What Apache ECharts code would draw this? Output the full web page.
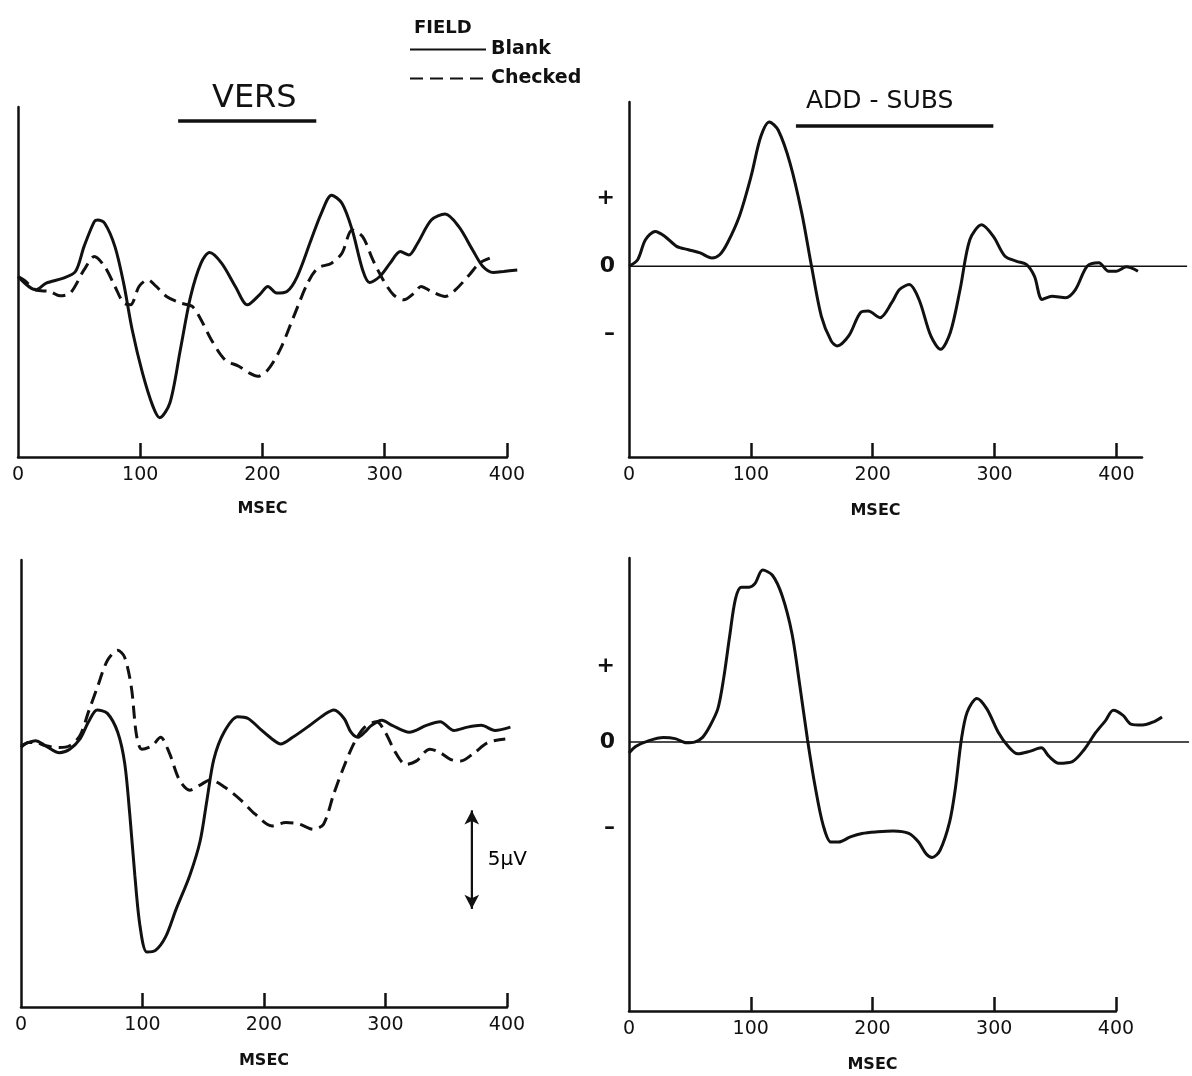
<!DOCTYPE html>
<html>
<head>
<meta charset="utf-8">
<title>VERS / ADD-SUBS</title>
<script src="https://cdn.jsdelivr.net/npm/echarts@6.0.0/dist/echarts.min.js"></script>
<style>
html, body { margin: 0; padding: 0; background: #fff; }
#chart { width: 1192px; height: 1076px; }
</style>
</head>
<body>
<div id="chart"></div>
<script>
// tick labels on the time axes (msec)
const msTicks = [0, 100, 200, 300, 400]
const msInnerTicks = [100, 200, 300, 400]

// traces, [msec, µV]
const versBlank = [[0,0],[14.6,-0.67],[23.1,-0.33],[37.1,-0.08],[47,0.25],[54,1.5],[62.4,2.75],[65.3,2.83],[70.9,2.67],[79.3,1.5],[86.4,-0.33],[93.4,-2.67],[101.8,-4.83],[110.3,-6.5],[115.9,-7.08],[124.3,-6.33],[132.8,-3.67],[141.2,-1],[149.7,0.67],[156.7,1.2],[166.5,0.67],[177.8,-0.5],[187.6,-1.42],[197.5,-0.92],[204.5,-0.5],[211.5,-0.83],[220,-0.75],[228.4,0],[239.7,1.83],[248.1,3.17],[256.5,4.08],[265,3.67],[273.4,2.33],[281.9,0.33],[287.5,-0.3],[295.9,0],[304.4,0.67],[312.8,1.25],[319.8,1.08],[326.9,1.67],[338.1,2.83],[349.4,3.13],[360.6,2.5],[371.9,1.33],[380.3,0.5],[388.8,0.2],[397.2,0.25],[408.4,0.33]]
const versChecked = [[0,0],[4.8,-0.17],[14.6,-0.67],[25.9,-0.75],[34.3,-0.97],[42.8,-0.83],[54,0.33],[62.4,1],[70.9,0.5],[79.3,-0.5],[86.4,-1.33],[92,-1.42],[99,-0.5],[106.1,-0.17],[113.1,-0.5],[121.5,-1],[132.8,-1.33],[142.6,-1.5],[149.7,-2.17],[158.1,-3.17],[169.3,-4.17],[180.6,-4.5],[189,-4.83],[196.1,-5],[204.5,-4.67],[214.4,-3.67],[225.6,-2],[236.9,-0.33],[245.3,0.42],[256.5,0.67],[265,1.17],[273.4,2.33],[281.9,2],[290.3,0.83],[298.7,-0.17],[307.2,-0.92],[315.6,-1.17],[324.1,-0.83],[329.7,-0.5],[338.1,-0.75],[349.4,-1],[357.8,-0.67],[369.1,0.08],[377.5,0.67],[385.9,0.92]]
const addSubsDiff = [[0,0],[7.1,0.33],[13.5,1.33],[21.5,1.75],[29.5,1.5],[39.1,1],[48.8,0.83],[58.4,0.67],[68,0.42],[74.4,0.58],[80.8,1.17],[90.5,2.5],[100.1,4.5],[108.1,6.5],[115.2,7.25],[122.5,6.83],[132.2,5.17],[141.8,2.67],[149.8,0],[157.8,-2.5],[165.9,-3.75],[170.7,-4],[180.3,-3.5],[189.9,-2.33],[196.3,-2.25],[206,-2.58],[215.6,-1.83],[222,-1.17],[230,-0.92],[238,-1.67],[247.7,-3.5],[255.7,-4.17],[263.7,-3.33],[271.7,-1.17],[279.7,1.33],[289.4,2.08],[299,1.5],[308.6,0.5],[318.2,0.25],[326.3,0.08],[332.7,-0.5],[339.1,-1.67],[347.1,-1.5],[358.3,-1.58],[366.4,-1.17],[376,0],[385.6,0.17],[393.6,-0.25],[400,-0.25],[408.1,-0.03],[417.7,-0.25]]
const lowBlank = [[0,0],[6.2,0.17],[11.9,0.26],[20.3,0],[31.6,-0.35],[40.1,-0.17],[48.6,0.35],[55.6,1.22],[62.7,1.82],[71.1,1.65],[79.6,0.69],[85.3,-0.87],[89.5,-3.47],[93.7,-6.6],[98,-9.2],[103.6,-10.5],[110.7,-10.42],[119.1,-9.72],[127.6,-8.33],[138.9,-6.6],[147.4,-4.86],[153,-2.78],[158.7,-0.69],[167.1,0.69],[178.4,1.48],[186.9,1.39],[198.2,0.78],[206.6,0.35],[213.7,0.09],[223.6,0.43],[237.7,1.04],[249,1.56],[257.5,1.82],[265.9,1.39],[271.6,0.69],[277.2,0.43],[282.9,0.69],[288.5,1.04],[297,1.3],[305.4,1.04],[319.6,0.69],[333.7,1.04],[345,1.22],[356.3,0.78],[367.5,0.95],[378.8,1.04],[390.1,0.78],[402.8,0.95]]
const lowChecked = [[0,-0.09],[6.2,0.17],[11.9,0.17],[20.3,0],[31.6,-0.09],[40.1,0],[48.6,0.52],[55.6,1.74],[62.7,2.95],[71.1,4.34],[79.6,4.86],[85.3,4.51],[90.9,2.95],[95.1,0.52],[99.4,-0.17],[107.8,0],[114.9,0.43],[122,-0.35],[130.4,-1.74],[138.9,-2.26],[147.4,-2],[155.8,-1.74],[167.1,-2.08],[181.2,-2.78],[192.5,-3.47],[206.6,-4.08],[217.9,-3.91],[229.2,-3.99],[240.5,-4.25],[249,-3.99],[257.5,-2.43],[265.9,-1.04],[274.4,0.17],[282.9,0.95],[292.7,1.22],[299.8,0.69],[308.3,-0.35],[316.7,-0.95],[325.2,-0.78],[336.5,-0.17],[345,-0.35],[353.4,-0.69],[361.9,-0.78],[373.2,-0.35],[384.5,0.17],[398.6,0.35]]
const lowDiff = [[0,-0.53],[5.8,-0.2],[15.4,0.05],[28.2,0.22],[37.8,0.17],[47.4,-0.03],[53.8,0],[60.2,0.22],[66.6,0.8],[73,1.63],[77.8,3.13],[82.6,5.13],[87.4,6.97],[92.2,7.55],[98.6,7.55],[103.4,7.72],[109.8,8.38],[117.8,8.13],[125.8,7.13],[133.8,5.3],[140.2,2.8],[146.6,0.13],[153,-2.2],[159.4,-4.03],[165.8,-4.87],[172.2,-4.87],[181.8,-4.62],[191.4,-4.45],[204.2,-4.37],[217,-4.33],[229.8,-4.45],[237.8,-4.87],[244.2,-5.45],[249,-5.62],[255.4,-5.28],[263.4,-3.87],[268.2,-2.2],[273,0.13],[277.8,1.47],[285.8,2.13],[293.8,1.63],[303.4,0.47],[311.4,-0.2],[319.4,-0.57],[329,-0.45],[338.6,-0.28],[345,-0.7],[353,-1.03],[364.2,-0.95],[373.8,-0.37],[383.4,0.47],[391.4,1.05],[397.8,1.55],[405.8,1.3],[412.2,0.88],[421.8,0.83],[431.4,1],[437.8,1.22]]

// bars under the titles, zero lines and the 5 µV scale
const versBar = [[131, 7.8], [244, 7.8]]
const addSubsBar = [[137, 7.05], [299, 7.05]]
const zeroTop = [[0, 0], [458, 0]]
const zeroLow = [[0, 0], [460, 0]]
const scaleBar = [[371, -3.3], [371, -8.3]]
// + / 0 / - marks on the right panels
const signTop = [-3.4, 0, 3.4]
const signLow = [-4.2, 0, 3.7]

const ink = '#111'
const font = 'DejaVu Sans'

// each panel: frame (visible axes) and a wider hidden twin with the same scale for the traces,
// because the traces run past the last tick
const panels = [
    { left: 18, top: 107, height: 350, pxPerMs: 489 / 400, axisMax: 400, traceMax: 420, yMin: -9.05, yMax: 8.5, gap: 44 },
    { left: 629, top: 102, height: 355, pxPerMs: 513 / 421, axisMax: 421, traceMax: 462, yMin: -9.58, yMax: 8.25, gap: 46, signs: signTop, shift: 20 },
    { left: 21, top: 560, height: 447, pxPerMs: 486 / 400, axisMax: 400, traceMax: 420, yMin: -13.3, yMax: 9.46, gap: 46 },
    { left: 629, top: 558, height: 453, pxPerMs: 487 / 400, axisMax: 400, traceMax: 462, yMin: -13.1, yMax: 8.97, gap: 46, signs: signLow }
]

const grids = [], xAxes = [], yAxes = []
panels.forEach((p, i) => {
    grids.push({ left: p.left, top: p.top, height: p.height, width: p.axisMax * p.pxPerMs })
    xAxes.push({
        type: 'value', gridIndex: i, min: 0, max: p.axisMax,
        axisLine: { show: true, onZero: false, lineStyle: { color: ink, width: 2.5 } },
        axisTick: { show: true, inside: true, length: 14, customValues: msInnerTicks, lineStyle: { color: ink, width: 2.5 } },
        axisLabel: { customValues: msTicks, margin: 9, fontSize: 19, color: ink, fontFamily: font },
        splitLine: { show: false },
        name: 'MSEC', nameLocation: 'middle', nameGap: p.gap,
        nameTextStyle: { fontSize: 16, fontWeight: 'bold', color: ink, fontFamily: font, padding: [0, p.shift || 0, 0, 0] }
    })
    yAxes.push({
        type: 'value', gridIndex: i, min: p.yMin, max: p.yMax,
        axisLine: { show: true, onZero: false, lineStyle: { color: ink, width: 2.5 } },
        axisTick: { show: false },
        splitLine: { show: false },
        axisLabel: p.signs ? {
            customValues: p.signs, margin: 14, fontSize: 22, fontWeight: 'bold', color: ink, fontFamily: font,
            formatter: v => v > 0 ? '+' : (v < 0 ? '–' : '0')
        } : { show: false }
    })
})
panels.forEach((p, i) => {
    grids.push({ left: p.left, top: p.top, height: p.height, width: p.traceMax * p.pxPerMs })
    xAxes.push({ type: 'value', gridIndex: 4 + i, min: 0, max: p.traceMax, show: false })
    yAxes.push({ type: 'value', gridIndex: 4 + i, min: p.yMin, max: p.yMax, show: false })
})

function trace(name, panel, data, dashed, width) {
    return {
        name: name, type: 'line', xAxisIndex: 4 + panel, yAxisIndex: 4 + panel, data: data,
        smooth: 0.3, symbol: 'none', silent: true,
        itemStyle: { color: ink },
        lineStyle: { color: ink, width: width || 3, type: dashed ? [13, 7] : 'solid' }
    }
}

const chart = echarts.init(document.getElementById('chart'))
chart.setOption({
    backgroundColor: '#fff',
    animation: false,
    grid: grids,
    xAxis: xAxes,
    yAxis: yAxes,
    legend: {
        data: ['Blank', 'Checked'],
        orient: 'vertical', left: 404, top: 35,
        itemWidth: 76, itemHeight: 14, itemGap: 10,
        selectedMode: false,
        itemStyle: { opacity: 0 },
        textStyle: { fontSize: 19, fontWeight: 'bold', color: ink, fontFamily: font }
    },
    graphic: [
        { type: 'text', left: 414, top: 19, style: { text: 'FIELD', fontSize: 18, fontWeight: 'bold', fill: ink, fontFamily: font } },
        { type: 'text', left: 212, top: 83, style: { text: 'VERS', fontSize: 32, fill: ink, fontFamily: font } },
        { type: 'text', left: 806, top: 89, style: { text: 'ADD - SUBS', fontSize: 25, fill: ink, fontFamily: font } }
    ],
    series: [
        trace('Blank', 0, versBlank),
        trace('Checked', 0, versChecked, true),
        trace('bar', 0, versBar, false, 3.5),
        trace('diff', 1, addSubsDiff),
        trace('zero', 1, zeroTop, false, 1.5),
        trace('bar', 1, addSubsBar, false, 3.5),
        trace('Blank', 2, lowBlank),
        trace('Checked', 2, lowChecked, true),
        {
            type: 'line', xAxisIndex: 6, yAxisIndex: 6, data: scaleBar, symbol: 'none', silent: true,
            lineStyle: { color: ink, width: 2 },
            markLine: {
                silent: true, symbol: ['arrow', 'arrow'], symbolSize: [11, 14],
                lineStyle: { color: ink, width: 2, type: 'solid' }, label: { show: false },
                data: [[{ coord: scaleBar[0] }, { coord: scaleBar[1] }]]
            }
        },
        {
            type: 'scatter', xAxisIndex: 6, yAxisIndex: 6, silent: true, symbolSize: 0,
            data: [[scaleBar[0][0], (scaleBar[0][1] + scaleBar[1][1]) / 2]],
            label: { show: true, position: 'right', distance: 16, formatter: '5µV', fontSize: 20, color: '#000', opacity: 1, fontFamily: font }
        },
        trace('diff', 3, lowDiff),
        trace('zero', 3, zeroLow, false, 1.5)
    ]
})
</script>
</body>
</html>
